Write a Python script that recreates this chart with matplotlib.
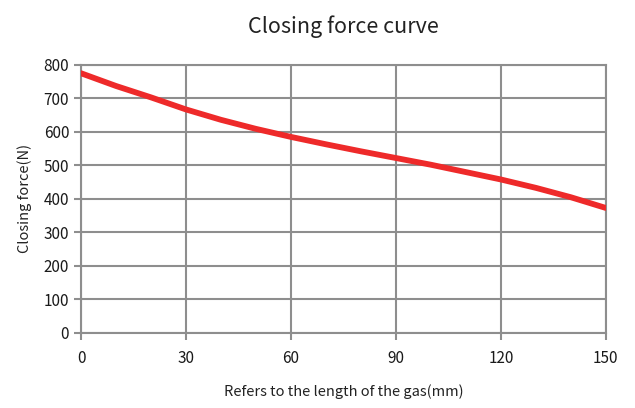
import matplotlib
matplotlib.use('Agg')
import matplotlib.pyplot as plt

plt.rcParams['font.family'] = ['Noto Sans CJK SC', 'DejaVu Sans']

# Данные кривой усилия закрытия
length_mm = [0, 10, 20, 30, 40, 50, 60, 70, 80, 90, 100, 110, 120, 130, 140, 150]
force_n = [775, 737, 703, 667, 636, 609, 585, 563, 542, 522, 502, 480, 458, 433, 405, 373]
x_ticks = [0, 30, 60, 90, 120, 150]
y_ticks = [0, 100, 200, 300, 400, 500, 600, 700, 800]

grid_color = '#8e8e8e'

fig = plt.figure(figsize=(6.35, 4.08), dpi=100)
ax = fig.add_axes([0.1276, 0.184, 0.8264, 0.657])

ax.plot(length_mm, force_n, color='#ee2a2a', linewidth=4.2, solid_capstyle='round', zorder=3)

ax.set_xlim(0, 150)
ax.set_ylim(0, 800)
ax.set_xticks(x_ticks)
ax.set_yticks(y_ticks)
ax.grid(True, color=grid_color, linewidth=1.5)

for spine in ax.spines.values():
    spine.set_color(grid_color)
    spine.set_linewidth(1.5)

ax.tick_params(axis='both', colors=grid_color, width=1.5, length=5, labelsize=11, labelcolor='#1a1a1a')
ax.tick_params(axis='x', pad=7)

ax.set_title('Closing force curve', fontsize=15.5, pad=23, color='#222222')
ax.set_xlabel('Refers to the length of the gas(mm)', fontsize=10.5, labelpad=13, color='#222222')
ax.set_ylabel('Closing force(N)', fontsize=10.5, labelpad=8, color='#222222')

plt.savefig('out.png')
plt.close()
